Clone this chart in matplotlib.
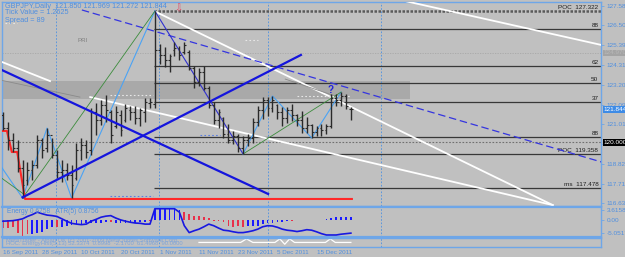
import numpy as np
import matplotlib.pyplot as plt

plt.rcParams['font.family'] = ['Liberation Sans', 'DejaVu Sans']

#--------#
# DATA   #
#--------#

# daily OHLC bars, GBPJPY 16 Sep 2011 -> late Dec 2011
opens = [121.52,120.80,120.14,119.69,118.58,117.91,118.47,118.75,120.14,119.69,
         120.41,119.30,118.36,118.47,118.19,118.02,119.58,119.86,119.58,121.69,
         121.25,122.08,121.69,120.91,121.52,121.25,121.80,121.69,121.36,121.69,
         122.19,122.14,125.14,124.86,124.58,125.14,125.25,125.02,125.02,124.14,
         123.36,123.91,123.02,122.08,121.25,121.36,120.47,120.14,120.36,119.69,
         120.14,120.25,121.14,121.80,122.36,121.91,122.08,121.69,121.36,121.80,
         121.52,121.25,120.80,120.97,120.58,120.80,120.69,120.91,122.47,122.36,
         122.58,121.850]
highs = [121.69,121.14,120.52,120.14,119.02,118.91,119.02,120.41,120.25,120.80,
         120.25,119.58,119.02,118.86,118.75,119.97,120.25,120.14,121.91,122.19,
         122.36,122.64,121.80,122.02,121.80,122.14,122.02,122.02,121.91,122.47,
         122.47,127.30,125.47,125.30,124.91,125.58,125.36,125.58,125.14,124.25,
         124.14,124.25,123.14,122.25,121.86,121.41,121.02,120.64,120.47,120.36,
         120.47,121.36,122.02,122.52,122.52,122.58,122.14,121.97,121.97,122.14,
         121.58,121.75,121.41,121.02,120.91,121.02,121.02,122.69,122.69,122.80,
         122.69,121.969]
lows = [120.69,119.58,119.47,118.36,116.91,117.64,117.91,118.58,119.14,119.47,
        119.14,118.02,117.80,117.91,116.91,117.91,119.02,119.14,119.30,120.41,
        120.97,121.14,119.97,120.80,120.36,121.14,121.25,121.02,120.91,121.14,
        121.91,121.91,124.36,124.19,123.91,124.80,124.58,124.91,124.02,123.02,
        123.14,122.91,121.91,121.02,120.80,120.25,119.97,119.91,119.47,119.36,
        119.80,119.97,120.91,121.30,121.47,121.69,121.30,120.91,121.08,121.19,
        120.91,120.52,120.52,120.25,120.36,120.36,120.47,120.80,122.02,122.02,
        121.86,121.272]
closes = [120.80,120.14,119.69,118.58,117.64,118.47,118.75,120.14,119.58,120.41,
          119.30,118.36,118.47,118.19,117.64,119.58,119.86,119.47,121.69,121.25,
          122.08,121.80,120.41,121.69,120.69,121.91,121.69,121.36,121.80,122.25,
          122.25,125.14,124.86,124.58,124.80,125.25,124.86,125.41,124.14,123.36,
          123.91,123.02,122.08,121.25,121.69,120.47,120.14,120.36,119.69,120.14,
          120.25,121.14,121.80,122.36,121.91,122.36,121.69,121.36,121.80,121.52,
          121.25,120.80,120.97,120.58,120.80,120.69,120.91,122.47,122.36,122.58,
          122.02,121.844]

# x axis labels (every 8 bars)
date_idx = [0, 8, 16, 24, 32, 40, 48, 56, 64]
date_lbl = ['16 Sep 2011', '28 Sep 2011', '10 Oct 2011', '20 Oct 2011', '1 Nov 2011',
            '11 Nov 2011', '23 Nov 2011', '5 Dec 2011', '15 Dec 2011']
month_sep = [10.8, 31.8, 54.1, 77.1]     # period separators

# right price scale
price_ticks = [127.580, 126.500, 125.390, 124.310, 123.200, 122.090,
               121.010, 119.900, 118.820, 117.710, 116.630]

# fibo / volume profile levels drawn from the 31 Oct high
lvl_price = [126.29, 124.25, 123.29, 122.26, 120.32, 119.358, 117.478]
lvl_text  = ['88', '62', '50', '37', '88', 'POC  119.358', 'ms  117.478']
poc_top   = 127.322
alert_lvl = 120.00
ask_lvl   = 124.97
band_lo, band_hi = 122.41, 123.41

# trend lines (bar index, price)
blue_dn   = ([-0.2, 54.1], [124.02, 117.14])
blue_up   = ([4.0, 60.8], [116.95, 124.86])
white_a   = ([31.0, 112.2], [127.28, 116.52])
white_b   = ([17.8, 112.2], [122.52, 116.52])
white_l   = ([-0.2, 9.6], [124.47, 123.41])
white_c   = ([82.0, 122.2], [127.86, 125.41])
blue_dash = ([16.1, 122.2], [127.36, 118.91])
grey_1    = ([-0.6, 15.7], [123.47, 122.52])
grey_2    = ([57.6, 67.8], [123.52, 122.58])

# zigzag pivots
zz_idx = [-0.6, 4, 9, 14, 31]
zz_val = [118.75, 116.91, 120.80, 116.91, 127.30]
zz2_idx = [49, 55, 63, 69]
zz2_val = [119.36, 122.58, 120.25, 122.80]
drop_idx = [31, 49]
drop_val = [127.30, 119.36]
grn1_idx, grn1_val = [4, 31], [116.91, 127.30]
grn2_idx, grn2_val = [-0.6, 4.5], [118.08, 117.08]
grn3_idx, grn3_val = [49, 69], [119.36, 122.80]

# trailing stop
stop_idx = [-0.2, 0.8, 1.8, 2.9, 4.5, 71.2]
stop_val = [120.64, 120.64, 119.47, 119.47, 116.86, 116.86]

# small dotted marks
dots_white = [(21.8, 30.6, 122.64), (60.0, 70.8, 122.60), (49.4, 52.0, 125.69), (0.4, 2.9, 126.64)]
dots_blue  = [(21.8, 30.6, 117.02), (40.2, 44.3, 120.41)]

# Energy histogram + ATR(5)
energy = [-3.0,-3.0,-2.7,-4.9,-6.1,-5.5,-5.5,-4.9,-4.5,-3.6,
          -2.9,-2.9,-2.7,-2.3,-1.9,-1.7,-1.7,-1.4,-1.4,-1.4,
          -1.4,-1.0,-1.0,-1.4,-1.4,-1.4,-1.4,-1.4,-1.0,-1.0,
          -0.6,4.1,4.1,4.1,4.1,4.1,3.6,2.8,2.2,1.5,
          1.2,0.9,0.7,-0.5,-0.7,-1.0,-2.3,-2.9,-2.5,-2.9,
          -2.3,-2.5,-2.3,-1.5,-1.2,-1.2,-1.0,-0.8,-0.6,-0.4,
          -0.3,-0.3,-0.3,-0.2,-0.2,-0.2,0.3,0.6,0.8,0.8,
          0.9,0.9]
energy_col = list('rrrrrrbbbbbrbbbbbbbbbbrbbbbbbbrbbbbbbrrrrrrrrrrrrrbbbbbbbbbrbrbbbbbbbbbb')
atr = [-0.6,-0.5,-0.4,-0.1,0.3,1.2,1.9,2.8,2.2,1.7,
       1.5,1.2,0.3,-0.6,-1.4,-1.7,-1.9,-1.7,-0.6,0.1,
       0.9,1.3,1.5,0.6,-0.1,-0.6,-1.0,-1.3,-1.4,-1.7,
       -1.7,4.1,4.1,4.1,4.1,4.1,2.8,-2.3,-4.9,-4.2,
       -3.6,-2.7,-1.7,-2.3,-3.2,-4.0,-4.2,-4.6,-4.9,-4.9,
       -4.6,-4.2,-3.6,-2.7,-2.3,-2.4,-2.9,-3.6,-4.0,-4.2,
       -4.5,-4.2,-3.8,-4.0,-4.6,-5.3,-5.8,-5.8,-5.8,-5.5,
       -5.3,-5.1]

# bottom strip line
wt_idx = [40, 48.5, 49.7, 51, 55.5, 56.5, 57.5, 58.5, 59.5, 65.8, 66.8, 67.8, 71]
wt_val = [0.45, 0.45, 0.85, 0.45, 0.45, 0.85, 0.25, 0.85, 0.45, 0.45, 0.85, 0.45, 0.45]

#-------#
# PLOT  #
#-------#

W, H = 625, 257
BG = '#c0c0c0'
FRAME = '#6ea6e8'
TXT = '#4f8fe0'

def box(x0, y0, x1, y1):
    return [x0 / W, 1 - y1 / H, (x1 - x0) / W, (y1 - y0) / H]

fig = plt.figure(figsize=(6.25, 2.57), dpi=100)
fig.patch.set_facecolor(BG)

idx = np.arange(len(closes))
x0, x1 = -0.2, 122.04

# main chart
ax = fig.add_axes(box(2, 1.5, 601, 206))
ax.set_facecolor(BG)
ax.set_xlim(x0, x1)
ax.set_ylim(116.47, 127.83)

ax.fill_between([x0, 83.1], band_lo, band_hi, color='#a9a9a9', lw=0, zorder=0)
ax.axhline(alert_lvl, color='#707070', ls=(0, (1.5, 1.5)), lw=0.8, zorder=1)
ax.axhline(ask_lvl, color='#a8a8a8', ls=(0, (1.5, 1.5)), lw=0.6, zorder=1)
for v in month_sep:
    ax.axvline(v, color='#4a90e2', ls=(0, (2, 2)), lw=0.6, zorder=1)

ax.hlines(poc_top, 30.8, x1, color='#5a5a5a', lw=1.8, ls=(0, (1, 0.6)), zorder=2)
ax.text(121.5, poc_top + 0.06, 'POC  127.322', ha='right', va='bottom', fontsize=4.6, color='#202020')
for p, t in zip(lvl_price, lvl_text):
    ax.hlines(p, 30.8, x1, color='#383838', lw=0.9, zorder=2)
    ax.text(121.5, p + 0.05, t, ha='right', va='bottom', fontsize=4.6, color='#202020')

for xs, ys in [white_a, white_b, white_l, white_c]:
    ax.plot(xs, ys, color='white', lw=1.3, zorder=3)
ax.plot(*blue_dash, color='#3535e0', lw=0.9, ls=(0, (6, 3)), zorder=3)
for xs, ys in [grey_1, grey_2]:
    ax.plot(xs, ys, color='#8a8a8a', lw=0.6, zorder=3)

ax.plot(zz_idx, zz_val, color='#4aa3f5', lw=0.8, zorder=4)
ax.plot(zz2_idx, zz2_val, color='#4aa3f5', lw=0.8, zorder=4)
ax.plot(drop_idx, drop_val, color='#3030d0', lw=0.8, zorder=4)
for xs, ys in [(grn1_idx, grn1_val), (grn2_idx, grn2_val), (grn3_idx, grn3_val)]:
    ax.plot(xs, ys, color='#3c8c3c', lw=0.6, zorder=4)

for a, b, p in dots_white:
    ax.hlines(p, a, b, color='#e8e8e8', lw=0.8, ls=(0, (1.5, 2)), zorder=4)
for a, b, p in dots_blue:
    ax.hlines(p, a, b, color='#5a7ee0', lw=0.8, ls=(0, (1.5, 2)), zorder=4)

ax.plot(stop_idx, stop_val, color='#ff2828', lw=1.5, zorder=5)

# OHLC bars
ax.vlines(idx, lows, highs, color='#2a2a2a', lw=1.0, zorder=6)
ax.hlines(opens, idx - 0.38, idx, color='#2a2a2a', lw=0.8, zorder=6)
ax.hlines(closes, idx, idx + 0.38, color='#2a2a2a', lw=0.8, zorder=6)

ax.plot(*blue_dn, color='#1515dd', lw=1.6, zorder=7)
ax.plot(*blue_up, color='#1515dd', lw=1.6, zorder=7)

ax.text(66.9, 122.91, '?', color='#2020e0', fontsize=7, fontweight='bold', ha='center', va='center', zorder=8)
ax.text(35.7, 127.47, '\u21e9', family='DejaVu Sans', color='#e0506a', fontsize=7, ha='center', va='center')
ax.text(16.3, 125.69, 'PRI', color='#808080', fontsize=4.5, ha='center', va='center')

ax.set_xticks([])
ax.yaxis.tick_right()
ax.set_yticks(price_ticks)
ax.set_yticklabels(['%.3f' % p for p in price_ticks])
ax.tick_params(axis='y', length=2.5, width=0.6, color=FRAME, labelcolor=TXT, labelsize=4.6, pad=1.5)

tr = ax.get_yaxis_transform()
ax.text(1.004, ask_lvl, '124.970', transform=tr, va='center', ha='left', fontsize=4.6, color='#b8b8b8',
        bbox=dict(boxstyle='square,pad=0.12', fc='#a4a4a4', ec='none'), zorder=9)
ax.text(1.004, closes[-1], '121.844', transform=tr, va='center', ha='left', fontsize=4.6, color='white',
        bbox=dict(boxstyle='square,pad=0.12', fc='#3d8be6', ec='none'), zorder=9)
ax.text(1.004, alert_lvl, '120.000', transform=tr, va='center', ha='left', fontsize=4.6, color='white',
        bbox=dict(boxstyle='square,pad=0.12', fc='black', ec='none'), zorder=9)

fig.text(5 / W, 1 - 6 / H, 'GBPJPY,Daily  121.850 121.969 121.272 121.844', fontsize=5.2, color=TXT, va='center')
fig.text(5 / W, 1 - 13 / H, 'Tick Value = 1.2625', fontsize=5.2, color=TXT, va='center')
fig.text(5 / W, 1 - 20 / H, 'Spread = 89', fontsize=5.2, color=TXT, va='center')

# energy / ATR panel
ax2 = fig.add_axes(box(2, 206.5, 601, 236.5))
ax2.set_facecolor(BG)
ax2.set_xlim(x0, x1)
ax2.set_ylim(-6.37, 4.94)
for v in month_sep:
    ax2.axvline(v, color='#4a90e2', ls=(0, (2, 2)), lw=0.6)
cols = ['#e8304a' if c == 'r' else '#1a1aff' for c in energy_col]
ax2.bar(idx, energy, width=0.36, color=cols, zorder=2)
ax2.plot(idx, atr, color='#1818e0', lw=1.2, zorder=3)
ax2.text(0.8, 3.0, 'Energy 0.6758   ATR(5) 0.8756', fontsize=4.8, color=TXT, va='center')
ax2.set_xticks([])
ax2.yaxis.tick_right()
ax2.set_yticks([3.6158, 0.0, -5.0517])
ax2.set_yticklabels(['3.6158', '0.00', '-5.0517'])
ax2.tick_params(axis='y', length=2.5, width=0.6, color=FRAME, labelcolor=TXT, labelsize=4.6, pad=1.5)

# bottom strip
ax3 = fig.add_axes(box(2, 237.5, 601, 246.5))
ax3.set_facecolor(BG)
ax3.set_xlim(x0, x1)
ax3.set_ylim(0, 1)
for v in month_sep:
    ax3.axvline(v, color='#4a90e2', ls=(0, (2, 2)), lw=0.6)
ax3.plot(wt_idx, wt_val, color='white', lw=0.9)
ax3.text(0.6, 0.72, 'MetaTrader - Alpari UK (c) 2001-2009 MetaQuotes Software Corp.', fontsize=4.2,
         color='#6f9ee0', va='center', alpha=0.8)
ax3.text(0.6, 0.3, 'HOC: EnergyHist(5,13) 52.3374  0.8998  -2.1700  61.4968  90.0000', fontsize=4.2,
         color='#6f9ee0', va='center', alpha=0.8)
ax3.set_yticks([])
ax3.set_xticks(date_idx)
ax3.set_xticklabels(date_lbl, ha='left')
ax3.tick_params(axis='x', length=0, pad=2.5, labelcolor=TXT, labelsize=4.5)

for a in (ax, ax2, ax3):
    for s in a.spines.values():
        s.set_color(FRAME)
        s.set_linewidth(1.0)
ax2.spines['top'].set_linewidth(1.6)
ax2.spines['bottom'].set_linewidth(1.6)

fig.savefig('out.png', dpi=100, facecolor=BG)
